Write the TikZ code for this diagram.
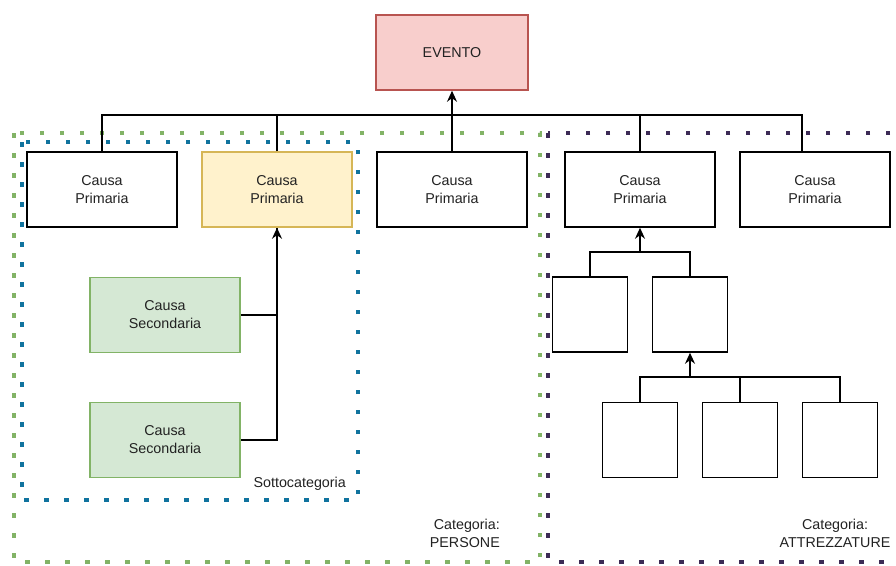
\documentclass[tikz,border=0pt]{standalone}
\usepackage{fontspec}
\setmainfont{Liberation Sans}
\usetikzlibrary{arrows.meta}
\definecolor{evfill}{HTML}{F8CECC}
\definecolor{evline}{HTML}{B85450}
\definecolor{yfill}{HTML}{FFF2CC}
\definecolor{yline}{HTML}{D6B656}
\definecolor{gfill}{HTML}{D5E8D4}
\definecolor{gline}{HTML}{82B366}
\definecolor{bdot}{HTML}{10739E}
\definecolor{pdot}{HTML}{3C2A55}
\definecolor{txt}{HTML}{222222}
\begin{document}
\begin{tikzpicture}[x=1pt,y=-1pt,
  box/.style={draw=black,fill=white,line width=1.5pt,minimum width=150pt,minimum height=75pt,
    inner sep=0pt,align=center,font=\fontsize{14.3}{18}\selectfont,text=txt},
  sq/.style={box,minimum width=75pt,minimum height=75pt},
  frame/.style={line width=4.5pt,dash pattern=on 4.5pt off 15.5pt},
  link/.style={draw=black,line width=1.5pt},
  arr/.style={link,-{Stealth[length=11pt,width=10pt]}},
  lbl/.style={font=\fontsize{14.3}{18}\selectfont,text=txt,inner sep=0pt}]
\useasboundingbox (0,0) rectangle (896,565);
\clip (0,0) rectangle (896,565);
\fill[white] (0,0) rectangle (896,565);

% category and subcategory frames
\draw[frame,gline] (14,133) rectangle (540,562);
\draw[frame,pdot] (548,133) rectangle (920,562);
\draw[frame,bdot] (22,142) rectangle (358,500);

% event and primary causes
\node[box,fill=evfill,draw=evline,minimum width=152pt] (ev) at (452,52.5) {EVENTO};
\node[box] (p1) at (102,189.5) {Causa\\Primaria};
\node[box,fill=yfill,draw=yline] (p2) at (277,189.5) {Causa\\Primaria};
\node[box] (p3) at (452,189.5) {Causa\\Primaria};
\node[box] (p4) at (640,189.5) {Causa\\Primaria};
\node[box] (p5) at (815,189.5) {Causa\\Primaria};

% secondary causes
\node[box,fill=gfill,draw=gline] (s1) at (165,315) {Causa\\Secondaria};
\node[box,fill=gfill,draw=gline] (s2) at (165,440) {Causa\\Secondaria};

% sub-tree under the fourth primary cause
\node[sq] (q1) at (590,314.5) {};
\node[sq] (q2) at (690,314.5) {};
\node[sq] (r1) at (640,440) {};
\node[sq] (r2) at (740,440) {};
\node[sq] (r3) at (840,440) {};

% connectors
\coordinate (bus) at (452,115);
\draw[link] (p1.north) |- (bus);
\draw[link] (p2.north) |- (bus);
\draw[link] (p4.north) |- (bus);
\draw[link] ([xshift=-13pt]p5.north) |- (bus);
\draw[arr] (p3.north) -- (ev.south);

\draw[link] (s2.east) -| (p2.south);
\draw[arr] (s1.east) -| (p2.south);

\coordinate (j1) at (640,252);
\draw[link] (q1.north) |- (j1);
\draw[link] (q2.north) |- (j1);
\draw[arr] (j1) -- (p4.south);

\coordinate (j2) at (690,377);
\draw[link] (r1.north) |- (j2);
\draw[link] (r3.north) |- (j2);
\draw[link] (r2.north) -- (r2.north |- j2);
\draw[arr] (j2) -- (q2.south);

% frame captions
\node[lbl,anchor=east] (lsub) at (346,484) {Sottocategoria};
\node[lbl,align=right,anchor=east] (lpers) at (500,533) {Categoria:\\PERSONE};
\node[lbl,align=center] (latt) at (835,533) {Categoria:\\ATTREZZATURE};
\end{tikzpicture}
\end{document}
